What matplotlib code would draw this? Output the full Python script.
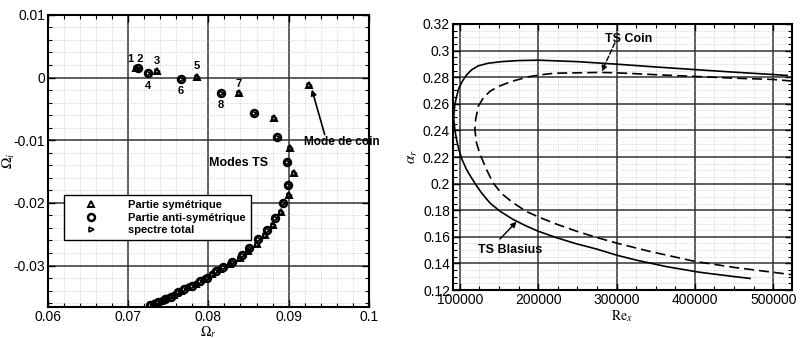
import numpy as np
import matplotlib
matplotlib.use("Agg")
import matplotlib.pyplot as plt
from matplotlib.ticker import MultipleLocator

plt.rcParams['font.family'] = ['Liberation Sans', 'DejaVu Sans']
plt.rcParams['mathtext.fontset'] = 'stix'

# --- donnees du spectre (gauche) ---
sym_wr = [0.0710, 0.0736, 0.0786, 0.0838, 0.0882, 0.0902, 0.0907, 0.0900, 0.0890,
          0.0880, 0.0870, 0.0860, 0.0849, 0.0839, 0.0827, 0.0815, 0.0804, 0.0794,
          0.0784, 0.0775, 0.0766, 0.0757, 0.0749, 0.0741, 0.0732, 0.0925]
sym_wi = [0.0016, 0.0011, 0.0001, -0.0024, -0.0065, -0.0112, -0.0152, -0.0187, -0.0214,
          -0.0235, -0.0251, -0.0266, -0.0277, -0.0288, -0.0297, -0.0305, -0.0314, -0.0322,
          -0.0329, -0.0335, -0.0341, -0.0347, -0.0352, -0.0356, -0.0360, -0.0012]
anti_wr = [0.0712, 0.0725, 0.0766, 0.0816, 0.0857, 0.0885, 0.0898, 0.0899, 0.0893,
           0.0883, 0.0873, 0.0862, 0.0851, 0.0842, 0.0830, 0.0818, 0.0809, 0.0798,
           0.0789, 0.0779, 0.0770, 0.0762, 0.0753, 0.0746, 0.0737, 0.0727]
anti_wi = [0.0015, 0.0008, -0.0003, -0.0024, -0.0057, -0.0095, -0.0135, -0.0171, -0.0200,
           -0.0224, -0.0243, -0.0258, -0.0272, -0.0283, -0.0294, -0.0302, -0.0309, -0.0320,
           -0.0325, -0.0333, -0.0338, -0.0343, -0.0350, -0.0354, -0.0358, -0.0363]

# numeros des modes
num_labels = ["1 2", "3", "4", "5", "6", "7", "8"]
num_x = [0.0709, 0.0736, 0.0725, 0.0786, 0.0766, 0.0838, 0.0816]
num_y = [0.0030, 0.0027, -0.0013, 0.0018, -0.0021, -0.0011, -0.0044]

# --- courbes neutres (droite) ---
blas_re_up = [92000, 93600, 95800, 98700, 102900, 108600, 114900, 123400, 136100,
              153300, 174500, 200000, 250000, 300000, 350000, 400000, 450000,
              500000, 518000]
blas_up = [0.2500, 0.2593, 0.2655, 0.2717, 0.2767, 0.2817, 0.2855, 0.2885, 0.2905,
           0.2917, 0.2925, 0.2928, 0.2917, 0.2898, 0.2877, 0.2857, 0.2838,
           0.2820, 0.2813]
blas_re_lo = [92000, 93600, 95800, 98700, 102900, 108600, 114900, 121700, 127700,
              138300, 151100, 168100, 185200, 200000, 223500, 249000, 274600,
              300100, 325600, 364400, 406500, 448700, 470400]
blas_lo = [0.2500, 0.2405, 0.2330, 0.2255, 0.2180, 0.2105, 0.2043, 0.1980, 0.1930,
           0.1855, 0.1793, 0.1730, 0.1680, 0.1642, 0.1593, 0.1547, 0.1508,
           0.1462, 0.1424, 0.1375, 0.1333, 0.1302, 0.1287]
coin_re = [524000, 500000, 448700, 364400, 300000, 278800, 221300, 208500, 187200,
           166000, 148900, 138300, 129800, 123400, 120100, 119200, 121300, 125500,
           134100, 142500, 153300, 168100, 185200, 200000, 223500, 249000, 274600,
           300100, 325600, 342600, 400000, 450000, 500000, 524000]
coin_a = [0.2771, 0.2783, 0.2793, 0.2815, 0.2833, 0.2836, 0.2830, 0.2822, 0.2803,
          0.2768, 0.2730, 0.2693, 0.2643, 0.2580, 0.2480, 0.2405, 0.2305, 0.2225,
          0.2105, 0.2005, 0.1925, 0.1855, 0.1790, 0.1750, 0.1695, 0.1642, 0.1595,
          0.1553, 0.1515, 0.1490, 0.1415, 0.1370, 0.1333, 0.1315]

fig = plt.figure(figsize=(8, 3.38), dpi=100)
ax1 = fig.add_axes([0.06, 0.092, 0.401, 0.864])
ax2 = fig.add_axes([0.566, 0.142, 0.424, 0.787])


def style_axes(ax):
    for s in ax.spines.values():
        s.set_linewidth(1.5)
    ax.tick_params(which='both', direction='in', top=True, right=True, labelsize=10)
    ax.tick_params(which='major', length=5, width=1, pad=2)
    ax.tick_params(which='minor', length=3, width=0.8)
    ax.grid(which='major', color='#333333', linewidth=1.1)
    ax.grid(which='minor', color='#bbbbbb', linewidth=0.5, linestyle=':')
    ax.set_axisbelow(True)


# gauche
ax1.plot(sym_wr, sym_wi, '^', ms=4.5, mfc='none', mec='black', mew=1.4, ls='none',
         label='Partie symétrique')
ax1.plot(anti_wr, anti_wi, 'o', ms=5, mfc='none', mec='black', mew=1.8, ls='none',
         label='Partie anti-symétrique')
ax1.plot(sym_wr + anti_wr, sym_wi + anti_wi, '>', ms=3.5, mfc='none', mec='black',
         mew=1.2, ls='none', label='spectre total')
for t, x, y in zip(num_labels, num_x, num_y):
    ax1.text(x, y, t, fontsize=8, fontweight='bold', ha='center', va='center')
ax1.text(0.0919, -0.0103, 'Mode de coin', fontsize=8.5, fontweight='bold',
         ha='left', va='center')
ax1.annotate('', xy=(0.0929, -0.0019), xytext=(0.0945, -0.0091),
             arrowprops=dict(arrowstyle='-|>', color='black', lw=1.2,
                             mutation_scale=8, shrinkA=0, shrinkB=0))
ax1.text(0.0801, -0.0137, 'Modes TS', fontsize=9, fontweight='bold', ha='left', va='center')
ax1.set_xlim(0.06, 0.1)
ax1.set_ylim(-0.0366, 0.01)
ax1.xaxis.set_minor_locator(MultipleLocator(0.002))
ax1.yaxis.set_minor_locator(MultipleLocator(0.002))
ax1.set_xticks([0.06, 0.07, 0.08, 0.09, 0.1])
ax1.set_xticklabels(['0.06', '0.07', '0.08', '0.09', '0.1'])
ax1.set_yticks([0.01, 0, -0.01, -0.02, -0.03])
ax1.set_yticklabels(['0.01', '0', '-0.01', '-0.02', '-0.03'])
style_axes(ax1)
ax1.set_xlabel(r'$\Omega_r$', fontsize=10)
ax1.xaxis.set_label_coords(0.5, -0.058)
ax1.set_ylabel(r'$\Omega_i$', fontsize=11)
ax1.yaxis.set_label_coords(-0.098, 0.5)
leg = ax1.legend(loc='upper left', bbox_to_anchor=(0.05, 0.384), fancybox=False,
                 edgecolor='black', framealpha=1, handlelength=3.9, handletextpad=1.4,
                 borderpad=0.45, labelspacing=0.25, borderaxespad=0,
                 prop={'size': 8, 'weight': 'bold'})
leg.get_frame().set_linewidth(1.0)

# droite
ax2.plot(blas_re_up, blas_up, color='black', lw=1.2)
ax2.plot(blas_re_lo, blas_lo, color='black', lw=1.2)
ax2.plot(coin_re, coin_a, color='black', lw=1.2, dashes=(6, 3))
ax2.text(285000, 0.3089, 'TS Coin', fontsize=9, fontweight='bold', ha='left', va='center')
ax2.annotate('', xy=(281300, 0.2844), xytext=(297900, 0.3059),
             arrowprops=dict(arrowstyle='-|>', color='black', lw=1.0, ls='--',
                             mutation_scale=8, shrinkA=0, shrinkB=0))
ax2.text(123000, 0.1501, 'TS Blasius', fontsize=9, fontweight='bold', ha='left', va='center')
ax2.annotate('', xy=(172400, 0.1713), xytext=(151100, 0.1583),
             arrowprops=dict(arrowstyle='-|>', color='black', lw=1.0,
                             mutation_scale=8, shrinkA=0, shrinkB=0))
ax2.set_xlim(91000, 524000)
ax2.set_ylim(0.12, 0.32)
ax2.xaxis.set_minor_locator(MultipleLocator(25000))
ax2.yaxis.set_minor_locator(MultipleLocator(0.005))
ax2.set_xticks([100000, 200000, 300000, 400000, 500000])
ax2.set_xticklabels(['100000', '200000', '300000', '400000', '500000'])
yt = [0.12, 0.14, 0.16, 0.18, 0.2, 0.22, 0.24, 0.26, 0.28, 0.3, 0.32]
ax2.set_yticks(yt)
ax2.set_yticklabels(['%g' % v for v in yt])
style_axes(ax2)
ax2.set_xlabel(r'$\mathrm{Re}_x$', fontsize=10, labelpad=1)
ax2.set_ylabel(r'$\alpha_r$', fontsize=11, labelpad=2)

fig.savefig('out.png', dpi=100)
